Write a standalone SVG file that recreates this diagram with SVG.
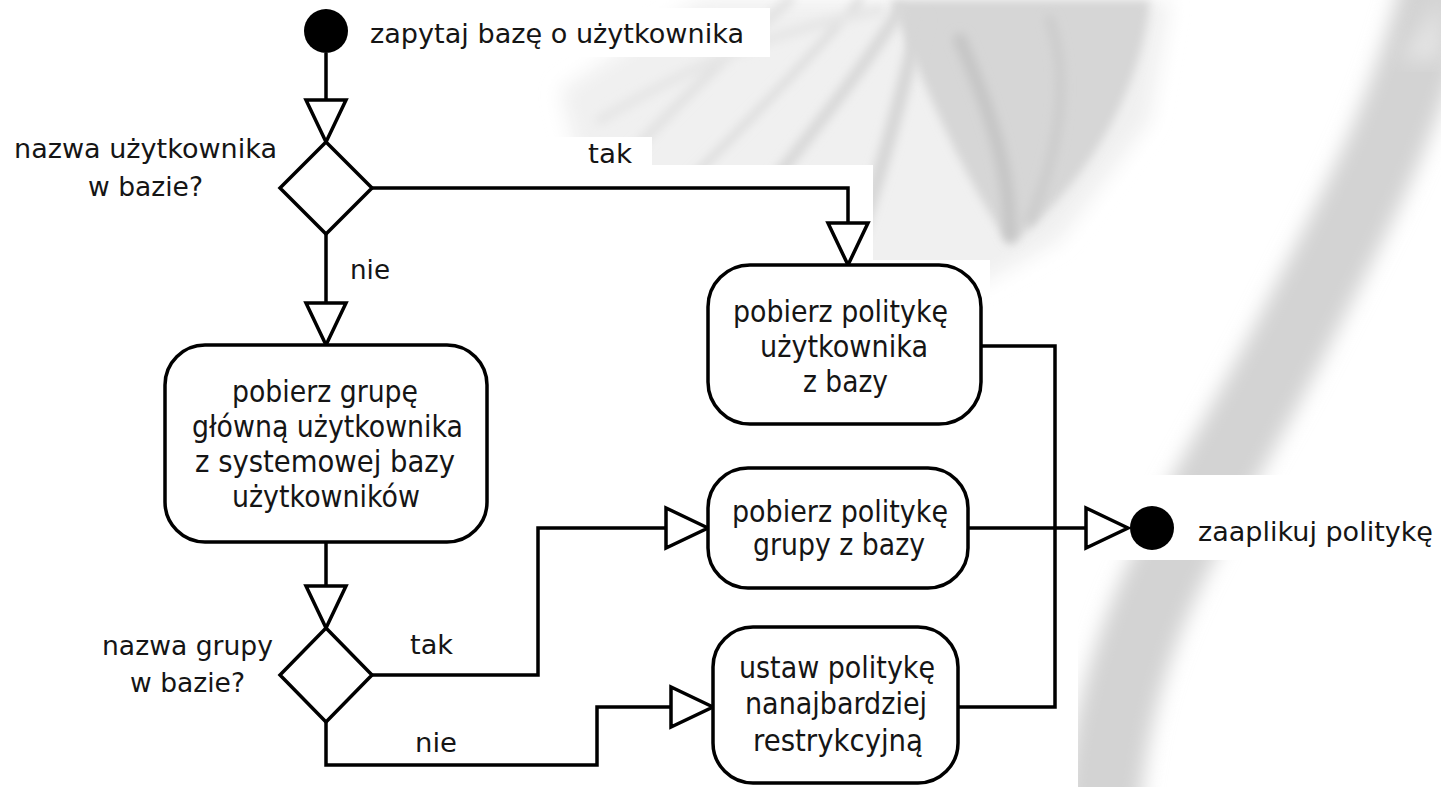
<svg xmlns="http://www.w3.org/2000/svg" width="1441" height="787" viewBox="0 0 1441 787">
  <style>
    text { font-family: "DejaVu Sans", "Liberation Sans", sans-serif; fill: #151515; }
    .box { fill: #ffffff; stroke: #000000; stroke-width: 3.5; }
    .dec { fill: #ffffff; stroke: #000000; stroke-width: 3.5; stroke-linejoin: miter; }
    .flow { fill: none; stroke: #000000; stroke-width: 3.5; stroke-linejoin: miter; marker-end: url(#hollow); }
    .plain { fill: none; stroke: #000000; stroke-width: 3.5; stroke-linejoin: miter; }
    .lbl { font-size: 26px; }
    .act { font-size: 31px; }
  </style>
  <defs>
    <marker id="hollow" markerUnits="userSpaceOnUse" viewBox="-48 -26 54 52" markerWidth="54" markerHeight="52" refX="0" refY="0" orient="auto" overflow="visible">
      <path d="M0 0 L-42 -20 L-42 20 Z" fill="#ffffff" stroke="#000000" stroke-width="3.5"/>
    </marker>
    <filter id="soft" x="-20%" y="-20%" width="140%" height="140%">
      <feGaussianBlur stdDeviation="10"/>
    </filter>
    <filter id="softer" x="-20%" y="-20%" width="140%" height="140%">
      <feGaussianBlur stdDeviation="5"/>
    </filter>
  </defs>

  <rect width="1441" height="787" fill="#ffffff"/>

  <!-- decorative brush strokes behind the flow -->
  <g id="backdrop">
    <path d="M1445 -40 C1410 120 1345 230 1295 330 C1245 430 1185 520 1145 620 C1118 690 1106 750 1100 830" fill="none" stroke="#d3d3d3" stroke-width="76" stroke-linecap="round" filter="url(#soft)"/>
    <path d="M1441 0 L1441 60 L1400 60 Z" fill="#e4e4e4" filter="url(#soft)"/>
    <path d="M560 90 L700 0 L1170 0 L1150 120 L1060 240 L980 285 L860 280 L600 250 Z" fill="#f0f0f0" filter="url(#soft)"/>
    <path d="M890 0 L1150 0 C1140 100 1080 190 1010 245 C965 180 925 90 890 0 Z" fill="#d6d6d6" filter="url(#softer)"/>
    <g fill="none" stroke-linecap="round" filter="url(#softer)">
      <path d="M570 220 C650 130 720 60 790 0" stroke="#e2e2e2" stroke-width="10"/>
      <path d="M640 230 C720 150 800 70 860 0" stroke="#dddddd" stroke-width="8"/>
      <path d="M720 250 C780 170 850 90 900 10" stroke="#d8d8d8" stroke-width="12"/>
      <path d="M850 260 C880 180 900 100 920 20" stroke="#d6d6d6" stroke-width="14"/>
      <path d="M600 120 C700 60 780 30 880 10" stroke="#e6e6e6" stroke-width="10"/>
      <path d="M960 40 C990 110 1010 170 1010 235" stroke="#c6c6c6" stroke-width="14"/>
      <path d="M1050 20 C1070 80 1060 150 1030 220" stroke="#cccccc" stroke-width="10"/>
    </g>
    <g fill="#ffffff">
      <rect x="0" y="8" width="770" height="49"/>
      <rect x="0" y="137" width="652" height="28"/>
      <rect x="0" y="165" width="873" height="95"/>
      <rect x="0" y="260" width="990" height="60"/>
      <rect x="0" y="320" width="1078" height="467"/>
      <rect x="1078" y="475" width="363" height="85"/>
    </g>
  </g>

  <!-- connectors -->
  <g id="connectors">
    <path class="flow" d="M326 53 L326 142"/>
    <path class="flow" d="M372 188 L848 188 L848 265"/>
    <path class="flow" d="M326 234 L326 345"/>
    <path class="flow" d="M326 542 L326 628"/>
    <path class="flow" d="M372 675 L538 675 L538 528 L708 528"/>
    <path class="flow" d="M326 722 L326 765 L597 765 L597 707 L713 707"/>
    <path class="plain" d="M981 346 L1055 346 L1055 707 L958 707"/>
    <path class="flow" d="M968 528 L1128 528"/>
  </g>

  <g id="start">
    <circle cx="326" cy="31" r="22" fill="#000000"/>
    <text class="lbl" x="370" y="43" font-size="25" textLength="374" lengthAdjust="spacingAndGlyphs">zapytaj bazę o użytkownika</text>
  </g>

  <g id="decision-user">
    <polygon class="dec" points="326,142 372,188 326,234 280,188"/>
    <text class="lbl" x="14" y="158" textLength="263" lengthAdjust="spacingAndGlyphs">nazwa użytkownika</text>
    <text class="lbl" x="88" y="196" textLength="115" lengthAdjust="spacingAndGlyphs">w bazie?</text>
  </g>

  <g id="guard-user-yes">
    <text class="lbl" x="588" y="163" textLength="44" lengthAdjust="spacingAndGlyphs">tak</text>
  </g>
  <g id="guard-user-no">
    <text class="lbl" x="350" y="279" textLength="40" lengthAdjust="spacingAndGlyphs">nie</text>
  </g>

  <g id="get-user-policy">
    <rect class="box" x="708" y="265" width="273" height="159" rx="42" ry="42"/>
    <text class="act" x="733" y="322" textLength="215" lengthAdjust="spacingAndGlyphs">pobierz politykę</text>
    <text class="act" x="760" y="357" textLength="168" lengthAdjust="spacingAndGlyphs">użytkownika</text>
    <text class="act" x="803" y="392" textLength="85" lengthAdjust="spacingAndGlyphs">z bazy</text>
  </g>

  <g id="get-primary-group">
    <rect class="box" x="165" y="345" width="322" height="197" rx="40" ry="40"/>
    <text class="act" x="232" y="402" textLength="186" lengthAdjust="spacingAndGlyphs">pobierz grupę</text>
    <text class="act" x="192" y="437" textLength="271" lengthAdjust="spacingAndGlyphs">główną użytkownika</text>
    <text class="act" x="195" y="472" textLength="260" lengthAdjust="spacingAndGlyphs">z systemowej bazy</text>
    <text class="act" x="232" y="507" textLength="188" lengthAdjust="spacingAndGlyphs">użytkowników</text>
  </g>

  <g id="decision-group">
    <polygon class="dec" points="326,628 372,675 326,722 280,675"/>
    <text class="lbl" x="102" y="655" font-size="27" textLength="171" lengthAdjust="spacingAndGlyphs">nazwa grupy</text>
    <text class="lbl" x="130" y="692" font-size="27" textLength="115" lengthAdjust="spacingAndGlyphs">w bazie?</text>
  </g>

  <g id="guard-group-yes">
    <text class="lbl" x="410" y="654" font-size="27" textLength="43" lengthAdjust="spacingAndGlyphs">tak</text>
  </g>
  <g id="guard-group-no">
    <text class="lbl" x="415" y="752" font-size="27" textLength="42" lengthAdjust="spacingAndGlyphs">nie</text>
  </g>

  <g id="get-group-policy">
    <rect class="box" x="708" y="468" width="260" height="120" rx="40" ry="40"/>
    <text class="act" x="732" y="522" textLength="216" lengthAdjust="spacingAndGlyphs">pobierz politykę</text>
    <text class="act" x="753" y="555" textLength="172" lengthAdjust="spacingAndGlyphs">grupy z bazy</text>
  </g>

  <g id="set-strict-policy">
    <rect class="box" x="713" y="627" width="245" height="156" rx="40" ry="40"/>
    <text class="act" x="739" y="678" textLength="196" lengthAdjust="spacingAndGlyphs">ustaw politykę</text>
    <text class="act" x="745" y="714" textLength="182" lengthAdjust="spacingAndGlyphs">nanajbardziej</text>
    <text class="act" x="753" y="751" textLength="170" lengthAdjust="spacingAndGlyphs">restrykcyjną</text>
  </g>

  <g id="end">
    <circle cx="1152" cy="528" r="22" fill="#000000"/>
    <text class="lbl" x="1198" y="541" font-size="30" textLength="235" lengthAdjust="spacingAndGlyphs">zaaplikuj politykę</text>
  </g>
</svg>
